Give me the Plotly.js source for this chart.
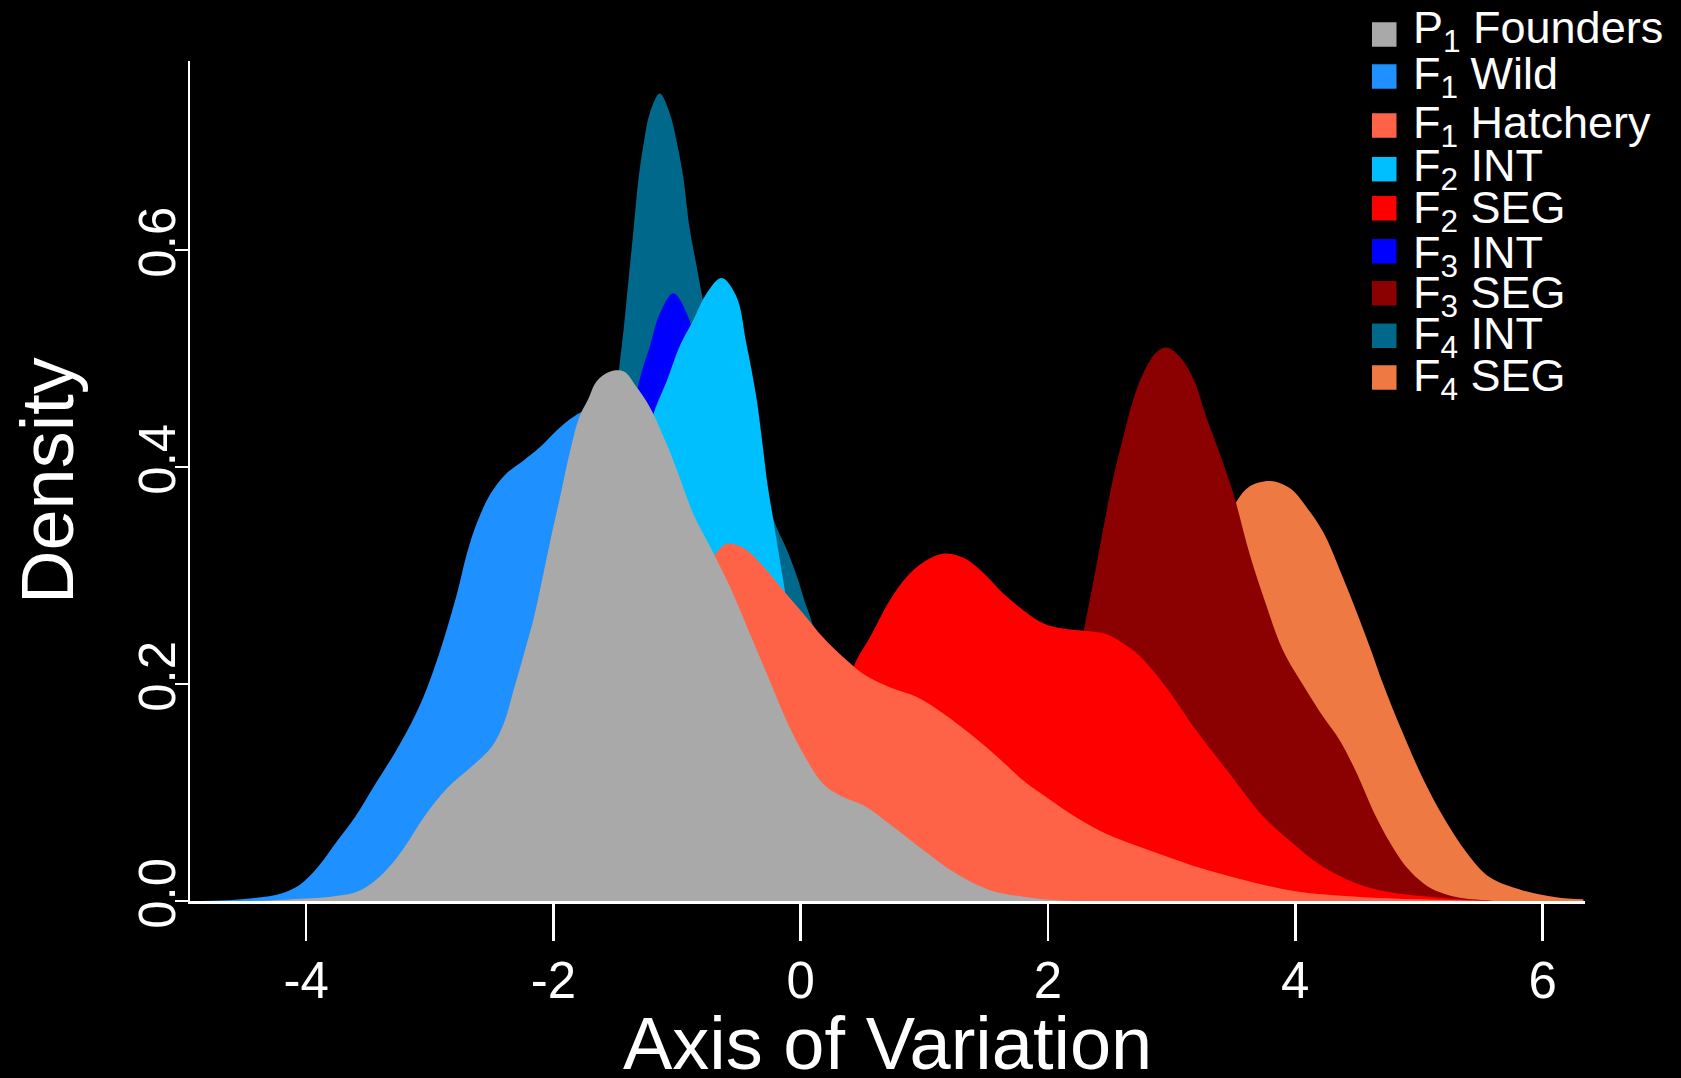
<!DOCTYPE html>
<html>
<head>
<meta charset="utf-8">
<script src="https://cdn.plot.ly/plotly-3.0.1.min.js"></script>
<style>
  html, body { margin: 0; padding: 0; background: #000; }
  #chart { width: 1681px; height: 1078px; }
</style>
</head>
<body>
<div id="chart"></div>
<script>
// Kernel density curves along the axis of variation, one per group.

const groupNames = [
  'P<sub>1</sub> Founders', 'F<sub>1</sub> Wild', 'F<sub>1</sub> Hatchery',
  'F<sub>2</sub> INT', 'F<sub>2</sub> SEG', 'F<sub>3</sub> INT',
  'F<sub>3</sub> SEG', 'F<sub>4</sub> INT', 'F<sub>4</sub> SEG'
];
const groupColors = [
  '#A9A9A9', '#1E90FF', '#FF6347', '#00BFFF', '#FF0000',
  '#0000FF', '#8B0000', '#00688B', '#EE7942'
];

const xFounders = [-4.6, -4.3, -4.05, -3.8, -3.6, -3.45, -3.3, -3.19, -3.05, -2.86, -2.65, -2.5, -2.4, -2.32, -2.24, -2.16, -2.08, -2.0, -1.95, -1.87, -1.79, -1.72, -1.65, -1.54, -1.43, -1.33, -1.22, -1.11, -1.0, -0.87, -0.73, -0.57, -0.41, -0.25, -0.09, 0.05, 0.18, 0.32, 0.51, 0.72, 0.99, 1.26, 1.53, 1.8, 2.05, 2.4];
const yFounders = [0.0, 0.0005, 0.002, 0.004, 0.008, 0.018, 0.035, 0.052, 0.077, 0.104, 0.125, 0.142, 0.164, 0.195, 0.227, 0.26, 0.302, 0.345, 0.37, 0.412, 0.446, 0.462, 0.479, 0.488, 0.488, 0.474, 0.455, 0.428, 0.397, 0.357, 0.326, 0.289, 0.246, 0.203, 0.160, 0.130, 0.108, 0.097, 0.088, 0.071, 0.047, 0.025, 0.010, 0.004, 0.001, 0.0];

const xWild = [-4.85, -4.6, -4.4, -4.2, -4.05, -3.9, -3.75, -3.6, -3.45, -3.27, -3.11, -3.0, -2.89, -2.78, -2.7, -2.62, -2.51, -2.38, -2.24, -2.11, -1.97, -1.84, -1.72, -1.6, -1.45, -1.25, -1.0, -0.7, -0.4, -0.1, 0.2, 0.5, 0.8, 1.1];
const yWild = [0.0, 0.001, 0.003, 0.007, 0.015, 0.032, 0.055, 0.078, 0.106, 0.139, 0.173, 0.203, 0.24, 0.283, 0.32, 0.348, 0.375, 0.394, 0.406, 0.418, 0.434, 0.446, 0.453, 0.455, 0.448, 0.42, 0.37, 0.29, 0.2, 0.12, 0.06, 0.025, 0.008, 0.0];

const xHatchery = [-3.2, -2.8, -2.5, -2.2, -1.9, -1.6, -1.3, -1.05, -0.85, -0.72, -0.6, -0.46, -0.3, -0.14, 0.02, 0.18, 0.34, 0.51, 0.72, 0.94, 1.15, 1.37, 1.59, 1.8, 2.02, 2.23, 2.47, 2.74, 3.01, 3.3, 3.6, 4.0, 4.5, 5.0, 5.6];
const yHatchery = [0.0, 0.003, 0.01, 0.028, 0.06, 0.11, 0.18, 0.245, 0.29, 0.315, 0.329, 0.325, 0.308, 0.286, 0.265, 0.243, 0.225, 0.209, 0.197, 0.188, 0.173, 0.154, 0.133, 0.111, 0.093, 0.077, 0.062, 0.05, 0.039, 0.028, 0.019, 0.009, 0.004, 0.0015, 0.0];

const xF2Int = [-2.7, -2.4, -2.1, -1.8, -1.55, -1.35, -1.19, -1.08, -0.98, -0.87, -0.76, -0.64, -0.52, -0.44, -0.36, -0.31, -0.27, -0.22, -0.17, -0.12, -0.05, 0.05, 0.15, 0.3, 0.5, 0.7];
const yF2Int = [0.0, 0.01, 0.045, 0.13, 0.26, 0.38, 0.449, 0.48, 0.511, 0.535, 0.56, 0.574, 0.557, 0.514, 0.465, 0.422, 0.385, 0.35, 0.315, 0.28, 0.22, 0.14, 0.08, 0.03, 0.006, 0.0];

const xF2Seg = [-1.0, -0.5, -0.2, 0.1, 0.3, 0.44, 0.56, 0.72, 0.86, 0.99, 1.15, 1.32, 1.48, 1.64, 1.8, 1.96, 2.12, 2.29, 2.47, 2.6, 2.74, 2.88, 3.0, 3.18, 3.45, 3.74, 3.96, 4.23, 4.5, 4.77, 5.17, 5.6];
const yF2Seg = [0.0, 0.015, 0.05, 0.11, 0.17, 0.219, 0.243, 0.277, 0.299, 0.312, 0.32, 0.316, 0.302, 0.283, 0.268, 0.256, 0.251, 0.249, 0.246, 0.238, 0.226, 0.208, 0.19, 0.16, 0.12, 0.078, 0.055, 0.031, 0.016, 0.008, 0.003, 0.0];

const xF3Int = [-2.6, -2.3, -2.0, -1.8, -1.6, -1.45, -1.35, -1.29, -1.22, -1.14, -1.03, -0.92, -0.8, -0.65, -0.5, -0.35, -0.2, 0.0, 0.2, 0.4];
const yF3Int = [0.0, 0.02, 0.08, 0.16, 0.28, 0.39, 0.455, 0.486, 0.511, 0.541, 0.56, 0.541, 0.49, 0.41, 0.32, 0.23, 0.14, 0.06, 0.015, 0.0];

const xF3Seg = [0.8, 1.2, 1.5, 1.8, 2.0, 2.2, 2.29, 2.37, 2.45, 2.53, 2.61, 2.69, 2.77, 2.88, 2.96, 3.07, 3.18, 3.28, 3.39, 3.5, 3.63, 3.77, 3.9, 4.09, 4.23, 4.36, 4.5, 4.63, 4.77, 4.9, 5.04, 5.17, 5.31, 5.6];
const yF3Seg = [0.0, 0.008, 0.025, 0.07, 0.12, 0.19, 0.249, 0.296, 0.345, 0.391, 0.428, 0.462, 0.486, 0.506, 0.51, 0.501, 0.48, 0.446, 0.412, 0.375, 0.32, 0.271, 0.231, 0.194, 0.169, 0.148, 0.117, 0.083, 0.053, 0.031, 0.016, 0.008, 0.0035, 0.0];

const xF4Int = [-2.8, -2.5, -2.2, -2.0, -1.8, -1.65, -1.55, -1.47, -1.43, -1.39, -1.35, -1.31, -1.27, -1.22, -1.14, -1.06, -1.0, -0.95, -0.9, -0.84, -0.75, -0.6, -0.45, -0.3, -0.19, -0.11, -0.03, 0.03, 0.09, 0.2, 0.35, 0.5, 0.7, 0.9, 1.2];
const yF4Int = [0.0, 0.01, 0.04, 0.09, 0.19, 0.31, 0.41, 0.489, 0.529, 0.575, 0.621, 0.667, 0.698, 0.726, 0.744, 0.726, 0.698, 0.667, 0.621, 0.584, 0.53, 0.46, 0.41, 0.375, 0.343, 0.323, 0.299, 0.277, 0.257, 0.2, 0.12, 0.06, 0.02, 0.005, 0.0];

const xF4Seg = [1.5, 1.8, 2.1, 2.4, 2.7, 3.0, 3.2, 3.4, 3.53, 3.63, 3.8, 3.96, 4.09, 4.23, 4.36, 4.47, 4.6, 4.71, 4.85, 5.04, 5.2, 5.39, 5.57, 5.84, 6.11, 6.33];
const yF4Seg = [0.0, 0.002, 0.01, 0.04, 0.12, 0.22, 0.28, 0.335, 0.369, 0.382, 0.387, 0.38, 0.363, 0.339, 0.305, 0.274, 0.235, 0.2, 0.16, 0.111, 0.077, 0.044, 0.022, 0.0097, 0.0035, 0.0015];

const xTickVals = [-4, -2, 0, 2, 4, 6];
const xTickText = ['-4', '-2', '0', '2', '4', '6'];
const yTickVals = [0, 0.2, 0.4, 0.6];
const yTickText = ['0.0', '0.2', '0.4', '0.6'];

const seriesX = [xFounders, xWild, xHatchery, xF2Int, xF2Seg, xF3Int, xF3Seg, xF4Int, xF4Seg];
const seriesY = [yFounders, yWild, yHatchery, yF2Int, yF2Seg, yF3Int, yF3Seg, yF4Int, yF4Seg];

// Filled curves are painted last-group-first so the founders sit on top.
const traces = [];
for (let i = groupNames.length - 1; i >= 0; i--) {
  traces.push({
    type: 'scatter',
    mode: 'lines',
    name: groupNames[i],
    x: seriesX[i],
    y: seriesY[i],
    fill: 'tozeroy',
    fillcolor: groupColors[i],
    line: { color: groupColors[i], width: 0, shape: 'spline', smoothing: 1 },
    showlegend: false,
    hoverinfo: 'skip'
  });
}

// Page geometry (pixels)
const W = 1681, H = 1078;
const L = 190, R = 1585, T = 61, B = 901;
const px = v => (v - L) / (R - L);
const py = v => (B - v) / (B - T);
const FONT = '"Liberation Sans", Arial, Helvetica, sans-serif';

// Key in the top-right corner: colour squares with labels
const keySquareLeft = 1372, keySquareSize = 24.5, keyTextLeft = 1411;
const keyCenters = [34.5, 76.5, 125.5, 169.2, 208.3, 251.3, 293.3, 335.8, 377.5];
const keyBaselines = [41.7, 88.3, 136.7, 180, 221.7, 266.7, 306.7, 348.3, 390];
const keyFontSize = 45;

const shapes = [];
const annotations = [];
groupNames.forEach((name, i) => {
  shapes.push({
    type: 'rect', xref: 'paper', yref: 'paper', layer: 'above',
    x0: px(keySquareLeft), x1: px(keySquareLeft + keySquareSize),
    y0: py(keyCenters[i] + keySquareSize / 2), y1: py(keyCenters[i] - keySquareSize / 2),
    fillcolor: groupColors[i], line: { width: 0 }
  });
  annotations.push({
    xref: 'paper', yref: 'paper', showarrow: false,
    x: px(keyTextLeft), xanchor: 'left',
    y: py(keyBaselines[i] - 0.93 * keyFontSize), yanchor: 'top',
    text: name, align: 'left',
    font: { family: FONT, size: keyFontSize, color: '#FFFFFF' }
  });
});

annotations.push({
  xref: 'paper', yref: 'paper', showarrow: false,
  x: 0.5, xanchor: 'center', y: py(1043), yanchor: 'middle',
  text: 'Axis of Variation',
  font: { family: FONT, size: 74, color: '#FFFFFF' }
});
annotations.push({
  xref: 'paper', yref: 'paper', showarrow: false,
  x: px(47), xanchor: 'center', y: 0.5, yanchor: 'middle',
  textangle: -90, text: 'Density',
  font: { family: FONT, size: 74, color: '#FFFFFF' }
});

const layout = {
  width: W, height: H,
  paper_bgcolor: '#000000', plot_bgcolor: '#000000',
  margin: { l: L, r: W - R, t: T, b: H - B, pad: 0 },
  showlegend: false,
  font: { family: FONT, color: '#FFFFFF' },
  xaxis: {
    range: [-4.939, 6.343], fixedrange: true,
    showgrid: false, zeroline: false,
    showline: true, linecolor: '#FFFFFF', linewidth: 2.5,
    ticks: 'outside', ticklen: 37, tickwidth: 2.5, tickcolor: '#FFFFFF',
    tickmode: 'array', tickvals: xTickVals, ticktext: xTickText,
    ticklabelstandoff: -4,
    tickfont: { family: FONT, size: 51, color: '#FFFFFF' },
    automargin: false
  },
  yaxis: {
    range: [0, 0.774], fixedrange: true,
    showgrid: false, zeroline: false,
    showline: true, linecolor: '#FFFFFF', linewidth: 2.5,
    ticks: 'outside', ticklen: 13, tickwidth: 2.5, tickcolor: '#FFFFFF',
    tickmode: 'array', tickvals: yTickVals, ticktext: yTickText,
    tickangle: -90,
    ticklabelstandoff: -21,
    tickfont: { family: FONT, size: 51, color: '#FFFFFF' },
    automargin: false
  },
  shapes: shapes,
  annotations: annotations
};

Plotly.newPlot('chart', traces, layout, { staticPlot: true, displayModeBar: false });
</script>
</body>
</html>
